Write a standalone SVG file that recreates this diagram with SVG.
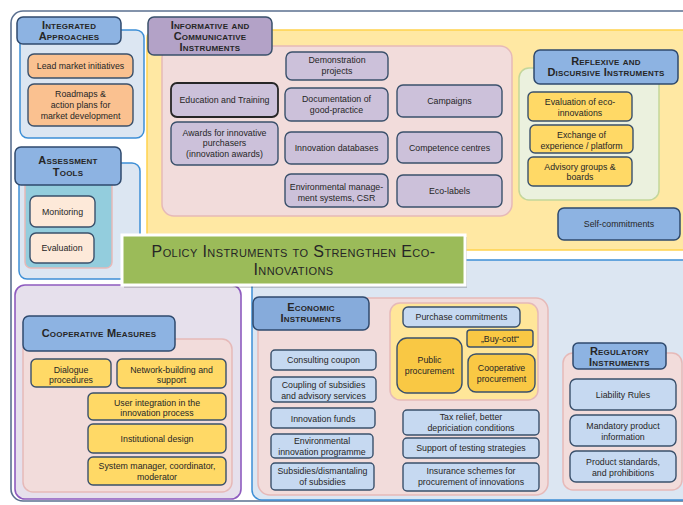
<svg xmlns="http://www.w3.org/2000/svg" width="683" height="505" viewBox="0 0 683 505">
<style>
text{font-family:"Liberation Sans",Arial,sans-serif;fill:#262626;text-anchor:middle}
.t{font-size:8.8px}
.h{font-size:11px;font-weight:bold;font-variant:small-caps;letter-spacing:0.2px}
.title{font-size:16px;font-variant:small-caps;letter-spacing:0.4px}
.bp{fill:#dce6f2;stroke:#3d8fd6;stroke-width:1.5}
.hd{fill:#8db3e2;stroke:#2f4a6e;stroke-width:1.5}
.pk{fill:#f2dcdb;stroke:#e6b9b8;stroke-width:1.5}
.yp{fill:#ffe8a3;stroke:#ffd24d;stroke-width:1.5}
.lav{fill:#ccc1da;stroke:#3a506b;stroke-width:1.4}
.yb{fill:#ffd966;stroke:#3a506b;stroke-width:1.4}
.ob{fill:#fac190;stroke:#3a506b;stroke-width:1.4}
.lb{fill:#c6d9f1;stroke:#3a506b;stroke-width:1.4}
.gb{fill:#f9c844;stroke:#3a506b;stroke-width:1.4}
</style>
<rect x="11" y="11" width="690" height="490" rx="12" fill="#ffffff" stroke="#5b7090" stroke-width="1.6"/>

<g id="informative">
<rect class="yp" x="147" y="30" width="560" height="220" rx="8"/>
<rect class="pk" x="162" y="46" width="350" height="170" rx="12"/>
<rect x="148" y="17" width="124" height="38" rx="6" fill="#b3a2c7" stroke="#3a506b" stroke-width="1.5"/>
<text class="h"><tspan x="210" y="29">Informative  and</tspan><tspan x="210" y="40">Communicative</tspan><tspan x="210" y="51">Instruments</tspan></text>
<g id="demonstration"><rect class="lav" x="286" y="52" width="102" height="28" rx="6"/><text class="t"><tspan x="337" y="63">Demonstration</tspan><tspan x="337" y="74">projects</tspan></text></g>
<g id="education"><rect x="171" y="83" width="107" height="34" rx="6" fill="#ccc1da" stroke="#262626" stroke-width="1.8"/><text class="t" x="224.5" y="103">Education and Training</text></g>
<g id="documentation"><rect class="lav" x="285" y="88" width="103" height="33" rx="6"/><text class="t"><tspan x="336.5" y="102">Documentation of</tspan><tspan x="336.5" y="113">good-practice</tspan></text></g>
<g id="awards"><rect class="lav" x="171" y="122" width="107" height="43" rx="6"/><text class="t"><tspan x="224.5" y="135.5">Awards for innovative</tspan><tspan x="224.5" y="146">purchasers</tspan><tspan x="224.5" y="157">(innovation awards)</tspan></text></g>
<g id="databases"><rect class="lav" x="285" y="132" width="103" height="32" rx="6"/><text class="t" x="336.5" y="151">Innovation databases</text></g>
<g id="ems"><rect class="lav" x="285" y="174" width="103" height="33" rx="6"/><text class="t"><tspan x="336.5" y="189.5">Environmental manage-</tspan><tspan x="336.5" y="200.5">ment systems, CSR</tspan></text></g>
<g id="campaigns"><rect class="lav" x="397" y="85" width="105" height="32" rx="6"/><text class="t" x="449.5" y="104">Campaigns</text></g>
<g id="competence"><rect class="lav" x="397" y="132" width="105" height="31" rx="6"/><text class="t" x="449.5" y="150.5">Competence centres</text></g>
<g id="ecolabels"><rect class="lav" x="397" y="175" width="105" height="32" rx="6"/><text class="t" x="449.5" y="194">Eco-labels</text></g>
</g>

<g id="reflexive">
<rect x="519" y="68" width="140" height="132" rx="10" fill="#ebf1de" stroke="#c3d69b" stroke-width="1.5"/>
<rect class="hd" x="534" y="50" width="144" height="34" rx="6"/>
<text class="h"><tspan x="606" y="65">Reflexive  and</tspan><tspan x="606" y="76">Discursive  Instruments</tspan></text>
<g id="evaluation-eco"><rect class="yb" x="528" y="92" width="104" height="29" rx="5"/><text class="t"><tspan x="580" y="105">Evaluation of eco-</tspan><tspan x="580" y="115.5">innovations</tspan></text></g>
<g id="exchange"><rect class="yb" x="530" y="125" width="103" height="28" rx="5"/><text class="t"><tspan x="581.5" y="138">Exchange of</tspan><tspan x="581.5" y="148.5">experience / platform</tspan></text></g>
<g id="advisory"><rect class="yb" x="528" y="157" width="104" height="29" rx="5"/><text class="t"><tspan x="580" y="169.5">Advisory groups &amp;</tspan><tspan x="580" y="180">boards</tspan></text></g>
</g>

<g id="self-commitments"><rect class="hd" x="558" y="208" width="122" height="32" rx="6"/><text class="t" x="619" y="227">Self-commitments</text></g>

<g id="integrated">
<rect class="bp" x="20" y="30" width="124" height="108" rx="8"/>
<rect class="hd" x="17" y="17" width="104" height="27" rx="6"/>
<text class="h"><tspan x="69" y="29">Integrated</tspan><tspan x="69" y="40">Approaches</tspan></text>
<g id="lead-market"><rect class="ob" x="28" y="54" width="105" height="24" rx="6"/><text class="t" x="80.5" y="69">Lead market initiatives</text></g>
<g id="roadmaps"><rect class="ob" x="28" y="84" width="105" height="42" rx="6"/><text class="t"><tspan x="80.5" y="96.5">Roadmaps &amp;</tspan><tspan x="80.5" y="107.5">action plans for</tspan><tspan x="80.5" y="118.5">market development</tspan></text></g>
</g>

<g id="assessment">
<rect class="bp" x="19" y="163" width="121" height="116" rx="8"/>
<rect x="25" y="176" width="87" height="92" rx="6" fill="#93cddd" stroke="#e6b9b8" stroke-width="1.5"/>
<rect class="hd" x="15" y="147" width="106" height="38" rx="6"/>
<text class="h"><tspan x="68" y="164">Assessment</tspan><tspan x="68" y="175.5">Tools</tspan></text>
<g id="monitoring"><rect x="30" y="196" width="65" height="31" rx="6" fill="#fde9d9" stroke="#3a506b" stroke-width="1.4"/><text class="t" x="62.5" y="214.5">Monitoring</text></g>
<g id="evaluation"><rect x="30" y="233" width="64" height="30" rx="6" fill="#fde9d9" stroke="#3a506b" stroke-width="1.4"/><text class="t" x="62" y="251">Evaluation</text></g>
</g>

<g id="economic">
<rect class="bp" x="252" y="260" width="460" height="240" rx="10"/>
<rect class="pk" x="258" y="298" width="290" height="197" rx="12"/>
<rect x="390" y="303" width="148" height="97" rx="10" fill="#ffe699" stroke="#e6b9b8" stroke-width="1.5"/>
<rect x="253" y="297" width="116" height="33" rx="6" fill="#86abdb" stroke="#2f4a6e" stroke-width="1.5"/>
<text class="h"><tspan x="311" y="311">Economic</tspan><tspan x="311" y="322">Instruments</tspan></text>
<g id="purchase"><rect class="lb" x="403" y="307" width="117" height="20" rx="5"/><text class="t" x="461.5" y="319.5">Purchase commitments</text></g>
<g id="buycott"><rect class="gb" x="467" y="330" width="66" height="17" rx="3"/><text class="t" x="500" y="342">„Buy-cott“</text></g>
<g id="public"><rect class="gb" x="397" y="338" width="65" height="55" rx="10"/><text class="t"><tspan x="429.5" y="363">Public</tspan><tspan x="429.5" y="374">procurement</tspan></text></g>
<g id="cooperative-proc"><rect class="gb" x="468" y="354" width="67" height="38" rx="8"/><text class="t"><tspan x="501.5" y="371">Cooperative</tspan><tspan x="501.5" y="382">procurement</tspan></text></g>
<g id="consulting"><rect class="lb" x="271" y="350" width="105" height="20" rx="4"/><text class="t" x="323.5" y="363">Consulting coupon</text></g>
<g id="coupling"><rect class="lb" x="271" y="377" width="105" height="25" rx="4"/><text class="t"><tspan x="323.5" y="387.5">Coupling of subsidies</tspan><tspan x="323.5" y="398.5">and advisory services</tspan></text></g>
<g id="funds"><rect class="lb" x="271" y="408" width="104" height="20" rx="4"/><text class="t" x="323" y="421.5">Innovation funds</text></g>
<g id="env-prog"><rect class="lb" x="271" y="434" width="102" height="24" rx="4"/><text class="t"><tspan x="322" y="443.5">Environmental</tspan><tspan x="322" y="454.5">innovation programme</tspan></text></g>
<g id="subsidies"><rect class="lb" x="271" y="463" width="103" height="27" rx="4"/><text class="t"><tspan x="322.5" y="474">Subsidies/dismantaling</tspan><tspan x="322.5" y="485">of subsidies</tspan></text></g>
<g id="tax"><rect class="lb" x="403" y="410" width="136" height="25" rx="4"/><text class="t"><tspan x="471" y="420">Tax relief, better</tspan><tspan x="471" y="430.5">depriciation conditions</tspan></text></g>
<g id="testing"><rect class="lb" x="403" y="438" width="136" height="20" rx="4"/><text class="t" x="471" y="450.5">Support of testing strategies</text></g>
<g id="insurance"><rect class="lb" x="403" y="463" width="136" height="28" rx="4"/><text class="t"><tspan x="471" y="474">Insurance schemes for</tspan><tspan x="471" y="485">procurement of innovations</tspan></text></g>
</g>

<g id="regulatory">
<rect class="pk" x="563" y="353" width="119" height="137" rx="10"/>
<rect class="hd" x="573" y="343" width="93" height="26" rx="5"/>
<text class="h"><tspan x="619.5" y="355">Regulatory</tspan><tspan x="619.5" y="366">Instruments</tspan></text>
<g id="liability"><rect class="lb" x="570" y="379" width="106" height="31" rx="6"/><text class="t" x="623" y="397.5">Liability Rules</text></g>
<g id="mandatory"><rect class="lb" x="570" y="415" width="106" height="31" rx="6"/><text class="t"><tspan x="623" y="429">Mandatory product</tspan><tspan x="623" y="439.5">information</tspan></text></g>
<g id="standards"><rect class="lb" x="570" y="451" width="106" height="31" rx="6"/><text class="t"><tspan x="623" y="465">Product standards,</tspan><tspan x="623" y="476">and prohibitions</tspan></text></g>
</g>

<g id="cooperative">
<rect x="15" y="285" width="226" height="214" rx="10" fill="#e6e0ec" stroke="#8e5bbf" stroke-width="1.6"/>
<rect class="pk" x="23" y="339" width="209" height="153" rx="10"/>
<rect class="hd" x="23" y="316" width="152" height="35" rx="6"/>
<text class="h" x="99" y="337">Cooperative  Measures</text>
<g id="dialogue"><rect class="yb" x="31" y="359" width="80" height="28" rx="5"/><text class="t"><tspan x="71" y="372.5">Dialogue</tspan><tspan x="71" y="383">procedures</tspan></text></g>
<g id="network"><rect class="yb" x="117" y="359" width="109" height="29" rx="5"/><text class="t"><tspan x="171.5" y="372.5">Network-building and</tspan><tspan x="171.5" y="383">support</tspan></text></g>
<g id="user"><rect class="yb" x="88" y="393" width="138" height="27" rx="5"/><text class="t"><tspan x="157" y="405.5">User integration in the</tspan><tspan x="157" y="416">innovation process</tspan></text></g>
<g id="institutional"><rect class="yb" x="88" y="424" width="138" height="29" rx="5"/><text class="t" x="157" y="442">Institutional design</text></g>
<g id="system"><rect class="yb" x="88" y="457" width="138" height="28" rx="5"/><text class="t"><tspan x="157" y="469">System manager, coordinator,</tspan><tspan x="157" y="479.5">moderator</tspan></text></g>
</g>

<g id="title">
<rect x="124" y="237" width="343" height="51" fill="#000000" opacity="0.18"/>
<rect x="122" y="235" width="343" height="50" fill="#9bbb59" stroke="#ffffff" stroke-width="3"/>
<text class="title"><tspan x="293.5" y="257">Policy Instruments to Strengthen Eco-</tspan><tspan x="293.5" y="275">Innovations</tspan></text>
</g>
</svg>
